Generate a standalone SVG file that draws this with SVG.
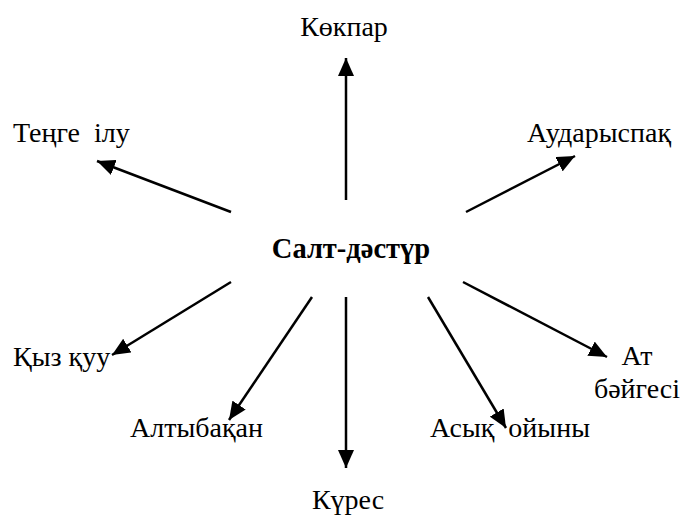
<svg xmlns="http://www.w3.org/2000/svg" width="685" height="525" viewBox="0 0 685 525">
<style>
text{font-family:"Liberation Serif","DejaVu Serif",serif;font-size:28px;fill:#000;white-space:pre}
.b{font-weight:bold;font-size:28.5px}
.c line{stroke:#000;stroke-width:2.5;marker-end:url(#ah)}
</style>
<defs>
<marker id="ah" markerUnits="userSpaceOnUse" markerWidth="18" markerHeight="16" viewBox="0 0 18 16" refX="18" refY="8" orient="auto">
<path d="M0,0 L18,8 L0,16 Z" fill="#000"/>
</marker>
</defs>
<rect width="685" height="525" fill="#fff"/>
<g id="center"><text class="b" x="351" y="258" text-anchor="middle">Салт-дәстүр</text></g>
<g id="kokpar"><text x="344" y="36" text-anchor="middle">Көкпар</text></g>
<g id="tenge"><text x="13" y="142" xml:space="preserve">Теңге  ілу</text></g>
<g id="audaryspak"><text x="527" y="142">Аударыспақ</text></g>
<g id="kyz"><text x="13" y="366">Қыз қуу</text></g>
<g id="altybakan"><text x="130" y="437">Алтыбақан</text></g>
<g id="kures"><text x="348" y="509" text-anchor="middle">Күрес</text></g>
<g id="asyk"><text x="430" y="437" xml:space="preserve">Асық  ойыны</text></g>
<g id="at"><text x="637" y="365" text-anchor="middle">Ат</text><text x="637" y="398" text-anchor="middle">бәйгесі</text></g>
<g class="c" id="connectors">
<line x1="346" y1="200" x2="346" y2="58"/>
<line x1="231" y1="212" x2="97" y2="161"/>
<line x1="466" y1="212" x2="575" y2="156"/>
<line x1="231" y1="282" x2="112" y2="355"/>
<line x1="312" y1="297" x2="229" y2="420"/>
<line x1="346" y1="297" x2="346" y2="468"/>
<line x1="428" y1="297" x2="506" y2="428"/>
<line x1="463" y1="282" x2="607" y2="357"/>
</g>
</svg>
